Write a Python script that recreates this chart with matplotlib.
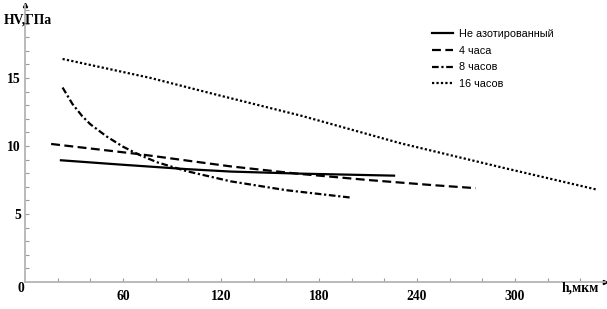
import matplotlib
matplotlib.use("Agg")
import matplotlib.pyplot as plt

# data
h_none = [22, 60, 99, 126, 168, 226]
hv_none = [8.95, 8.62, 8.3, 8.12, 7.97, 7.82]
h_4 = [16, 70, 101, 126, 168, 210, 250, 276]
hv_4 = [10.15, 9.4, 8.9, 8.5, 7.95, 7.5, 7.12, 6.9]
h_8 = [23, 29, 35, 40, 50, 60, 70, 81, 99, 126, 160, 200]
hv_8 = [14.3, 13.1, 12.2, 11.6, 10.7, 9.95, 9.35, 8.8, 8.15, 7.4, 6.75, 6.2]
h_16 = [23, 77, 118, 170, 230, 291, 350]
hv_16 = [16.4, 15.0, 13.75, 12.2, 10.2, 8.45, 6.8]
labels = ["Не азотированный", "4 часа", "8 часов", "16 часов"]
xticks = [60, 120, 180, 240, 300]
yticks = [5, 10, 15]

W, H = 607, 309
fig = plt.figure(figsize=(W/100, H/100), dpi=100)
x0, x1, y0, y1 = 25, 605, 282, 5
ax = fig.add_axes([x0/W, (H-y0)/H, (x1-x0)/W, (y0-y1)/H])
ax.set_xlim(0, (x1-x0)/1.633)
ax.set_ylim(0, (y0-y1)/13.6)

lw = 1.6
ax.plot(h_none, hv_none, color="black", lw=lw, ls="-", label=labels[0])
ax.plot(h_4, hv_4, color="black", lw=lw, ls=(0, (4, 2)), label=labels[1])
ax.plot(h_8, hv_8, color="black", lw=lw, ls=(0, (3, 1.2, 1, 1.2)), label=labels[2])
ax.plot(h_16, hv_16, color="black", lw=lw, ls=(0, (1, 1)), label=labels[3])

for s in ["top", "right"]:
    ax.spines[s].set_visible(False)
for s in ["left", "bottom"]:
    ax.spines[s].set_color("#b4b4b4")
    ax.spines[s].set_linewidth(1.3)

ax.set_xticks(list(range(20, 355, 20)), minor=True)
ax.set_yticks(list(range(1, 21)), minor=True)
ax.set_xticks(xticks)
ax.set_yticks(yticks)
ax.tick_params(which="both", direction="in", color="#9a9a9a", length=3, width=0.8)
ax.tick_params(axis="x", pad=6)
ax.tick_params(axis="y", pad=3)
serif = {"family": "Liberation Serif", "weight": "bold", "size": 9.8}
ax.set_xticklabels([str(v) for v in xticks], fontdict=serif)
ax.set_yticklabels([str(v) for v in yticks], fontdict=serif)

ax.plot(1, 0, ">", color="black", ms=3, transform=ax.get_yaxis_transform(), clip_on=False)
ax.plot(0, 1, "^", color="black", ms=3, transform=ax.get_xaxis_transform(), clip_on=False)

fig.text(21/W, 1-288/H, "0", ha="center", va="center", **serif)
fig.text(580/W, 1-288/H, "h,мкм", ha="center", va="center", **serif)
fig.text(28/W, 1-20/H, "HV,ГПа", ha="center", va="center", **serif)

leg = ax.legend(loc="upper left", bbox_to_anchor=(432/W, 1-29/H), bbox_transform=fig.transFigure,
                frameon=False, prop={"family": "Liberation Sans", "size": 7.8},
                handlelength=1.9, handletextpad=0.55, labelspacing=0.62, borderaxespad=0, borderpad=0)

fig.savefig("out.png", dpi=100)
